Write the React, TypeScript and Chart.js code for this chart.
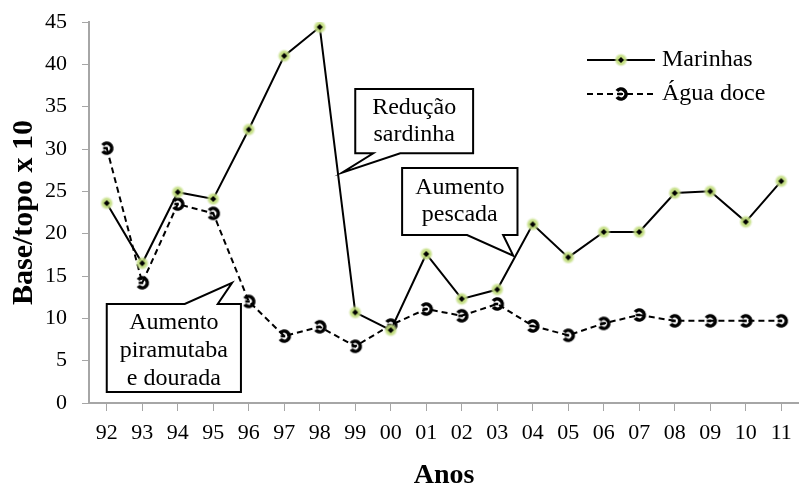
import React, { useEffect, useRef } from 'react';
import { Chart, registerables } from 'chart.js';

Chart.register(...registerables);

const categories = ['92', '93', '94', '95', '96', '97', '98', '99', '00', '01', '02', '03', '04', '05', '06', '07', '08', '09', '10', '11'];
const marinhas = [23.6, 16.5, 24.9, 24.1, 32.3, 41.0, 44.4, 10.7, 8.6, 17.6, 12.3, 13.4, 21.1, 17.2, 20.2, 20.2, 24.8, 25.0, 21.4, 26.2];
const aguaDoce = [30.1, 14.2, 23.5, 22.4, 12.0, 7.9, 9.0, 6.7, 9.2, 11.1, 10.3, 11.7, 9.1, 8.0, 9.4, 10.4, 9.7, 9.7, 9.7, 9.7];
const seriesNames = ['Marinhas', 'Água doce'];
const yMin = 0;
const yMax = 45;
const yStep = 5;
const xTitle = 'Anos';
const yTitle = 'Base/topo x 10';

// Callout annotations: text lines, tip (category index, value), box (left idx, top val, right idx, bottom val)
const calloutTexts = [['Redução', 'sardinha'], ['Aumento', 'pescada'], ['Aumento', 'piramutaba', 'e dourada']];
const calloutTips = [[6.63, 27.2], [11.45, 17.4], [3.53, 14.2]];
const calloutBoxes = [[7.0, 37.1, 10.32, 29.5], [8.32, 27.75, 11.57, 19.84], [0.0, 11.69, 3.78, 1.3]];
const calloutTailSide = ['bottom', 'bottom', 'top'];
const calloutTailBase = [[18, 45], [65, 101], [78, 111]];

const FONT = '"Liberation Serif", "Times New Roman", serif';

function makeMarinhaMarker() {
  const c = document.createElement('canvas');
  c.width = 14; c.height = 14;
  const g = c.getContext('2d')!;
  const grad = g.createRadialGradient(7, 7, 1, 7, 7, 7);
  grad.addColorStop(0, 'rgba(180,210,100,1)');
  grad.addColorStop(0.6, 'rgba(195,222,130,0.85)');
  grad.addColorStop(1, 'rgba(220,235,180,0)');
  g.fillStyle = grad;
  g.beginPath(); g.arc(7, 7, 7, 0, Math.PI * 2); g.fill();
  g.fillStyle = '#000';
  g.beginPath();
  g.moveTo(7, 4); g.lineTo(10, 7); g.lineTo(7, 10); g.lineTo(4, 7); g.closePath();
  g.fill();
  return c;
}

function makeAguaMarker() {
  const c = document.createElement('canvas');
  c.width = 18; c.height = 18;
  const g = c.getContext('2d')!;
  g.strokeStyle = '#000';
  g.lineWidth = 3.6;
  g.beginPath();
  g.arc(9, 9, 5, -Math.PI * 0.8, Math.PI * 0.8);
  g.stroke();
  g.lineWidth = 2.6;
  g.beginPath(); g.moveTo(5.5, 9); g.lineTo(10, 9); g.stroke();
  return c;
}

export default function App() {
  const ref = useRef<HTMLCanvasElement>(null);

  useEffect(() => {
    if (!ref.current) return;
    const mMarker = makeMarinhaMarker();
    const aMarker = makeAguaMarker();

    const overlay = {
      id: 'overlay',
      afterDatasetsDraw(chart: any) {
        const ctx = chart.ctx;
        const xs = chart.scales.x;
        const ys = chart.scales.y;
        ctx.save();
        // callouts
        calloutTexts.forEach((lines, i) => {
          const [l, t, r, b] = calloutBoxes[i];
          const x0 = xs.getPixelForValue(l);
          const x1 = xs.getPixelForValue(r);
          const y0 = ys.getPixelForValue(t);
          const y1 = ys.getPixelForValue(b);
          const tx = xs.getPixelForValue(calloutTips[i][0]);
          const ty = ys.getPixelForValue(calloutTips[i][1]);
          const [b0, b1] = calloutTailBase[i];
          ctx.beginPath();
          if (calloutTailSide[i] === 'bottom') {
            ctx.moveTo(x0, y0);
            ctx.lineTo(x1, y0);
            ctx.lineTo(x1, y1);
            ctx.lineTo(x0 + b1, y1);
            ctx.lineTo(tx, ty);
            ctx.lineTo(x0 + b0, y1);
            ctx.lineTo(x0, y1);
          } else {
            ctx.moveTo(x0, y0);
            ctx.lineTo(x0 + b0, y0);
            ctx.lineTo(tx, ty);
            ctx.lineTo(x0 + b1, y0);
            ctx.lineTo(x1, y0);
            ctx.lineTo(x1, y1);
            ctx.lineTo(x0, y1);
          }
          ctx.closePath();
          ctx.fillStyle = '#fff';
          ctx.fill();
          ctx.lineWidth = 2;
          ctx.strokeStyle = '#000';
          ctx.lineJoin = 'miter';
          ctx.stroke();
          ctx.fillStyle = '#000';
          ctx.font = '24px ' + FONT;
          ctx.textAlign = 'center';
          ctx.textBaseline = 'middle';
          const lh = lines.length > 2 ? 28 : 27;
          const cx = (x0 + x1) / 2;
          const cy = (y0 + y1) / 2 + (lines.length > 2 ? 3 : 0);
          lines.forEach((s, k) => {
            ctx.fillText(s, cx, cy + (k - (lines.length - 1) / 2) * lh);
          });
        });
        // legend
        const lx0 = 587, lx1 = 655, ltx = 662;
        const rows = [60, 94];
        ctx.strokeStyle = '#000';
        ctx.lineWidth = 2;
        ctx.setLineDash([]);
        ctx.beginPath(); ctx.moveTo(lx0, rows[0]); ctx.lineTo(lx1, rows[0]); ctx.stroke();
        ctx.drawImage(mMarker, (lx0 + lx1) / 2 - 7, rows[0] - 7);
        ctx.setLineDash([6, 4]);
        ctx.beginPath(); ctx.moveTo(lx0, rows[1]); ctx.lineTo(lx1, rows[1]); ctx.stroke();
        ctx.setLineDash([]);
        ctx.drawImage(aMarker, (lx0 + lx1) / 2 - 9, rows[1] - 9);
        ctx.fillStyle = '#000';
        ctx.font = '24px ' + FONT;
        ctx.textAlign = 'left';
        ctx.textBaseline = 'middle';
        ctx.fillText(seriesNames[0], ltx, rows[0]);
        ctx.fillText(seriesNames[1], ltx, rows[1]);
        ctx.restore();
      },
    };

    const chart = new Chart(ref.current, {
      type: 'line',
      data: {
        labels: categories,
        datasets: [
          {
            label: seriesNames[0],
            data: marinhas,
            borderColor: '#000',
            borderWidth: 2,
            tension: 0,
            pointStyle: mMarker as any,
            pointRadius: 5,
            fill: false,
          },
          {
            label: seriesNames[1],
            data: aguaDoce,
            borderColor: '#000',
            borderWidth: 2,
            borderDash: [6, 4],
            tension: 0,
            pointStyle: aMarker as any,
            pointRadius: 5,
            fill: false,
          },
        ],
      },
      options: {
        animation: false,
        responsive: false,
        devicePixelRatio: 1,
        layout: { autoPadding: false, padding: { top: 22, right: 0, bottom: 0, left: 0 } },
        plugins: {
          legend: { display: false },
          tooltip: { enabled: false },
        },
        scales: {
          x: {
            type: 'category',
            offset: true,
            grid: {
              display: true,
              drawOnChartArea: false,
              drawTicks: true,
              tickLength: 17,
              tickBorderDash: [7, 40],
              color: '#a6a6a6',
              offset: false,
            },
            border: { display: true, color: '#a6a6a6', width: 2 },
            ticks: {
              color: '#000',
              font: { family: FONT, size: 22 },
              padding: 0,
              maxRotation: 0,
              autoSkip: false,
            },
            title: {
              display: true,
              text: xTitle,
              color: '#000',
              font: { family: FONT, size: 28, weight: 'bold', lineHeight: 0.7 },
              padding: { top: 0, bottom: 0 },
            },
            afterFit(s: any) { s.height = 83; s.paddingRight = 0; s.paddingLeft = 0; s.paddingTop = 0; s.paddingBottom = 0; },
          },
          y: {
            min: yMin,
            max: yMax,
            grid: {
              display: true,
              drawOnChartArea: false,
              drawTicks: true,
              tickLength: 7,
              color: '#a6a6a6',
            },
            border: { display: true, color: '#a6a6a6', width: 2 },
            ticks: {
              stepSize: yStep,
              color: '#000',
              font: { family: FONT, size: 22 },
              padding: 15,
            },
            title: {
              display: true,
              text: yTitle,
              color: '#000',
              font: { family: FONT, size: 30, weight: 'bold', lineHeight: 1.2 },
              padding: { top: 6, bottom: 0 },
            },
            afterFit(s: any) { s.width = 89; s.paddingTop = 0; s.paddingBottom = 0; s.paddingLeft = 0; s.paddingRight = 0; },
          },
        },
      },
      plugins: [overlay],
    } as any);

    return () => chart.destroy();
  }, []);

  return (
    <div style={{ position: 'fixed', left: 0, top: 0, width: 799, height: 486, background: '#fff' }}>
      <canvas ref={ref} width={799} height={486} style={{ display: 'block', width: 799, height: 486 }} />
    </div>
  );
}
